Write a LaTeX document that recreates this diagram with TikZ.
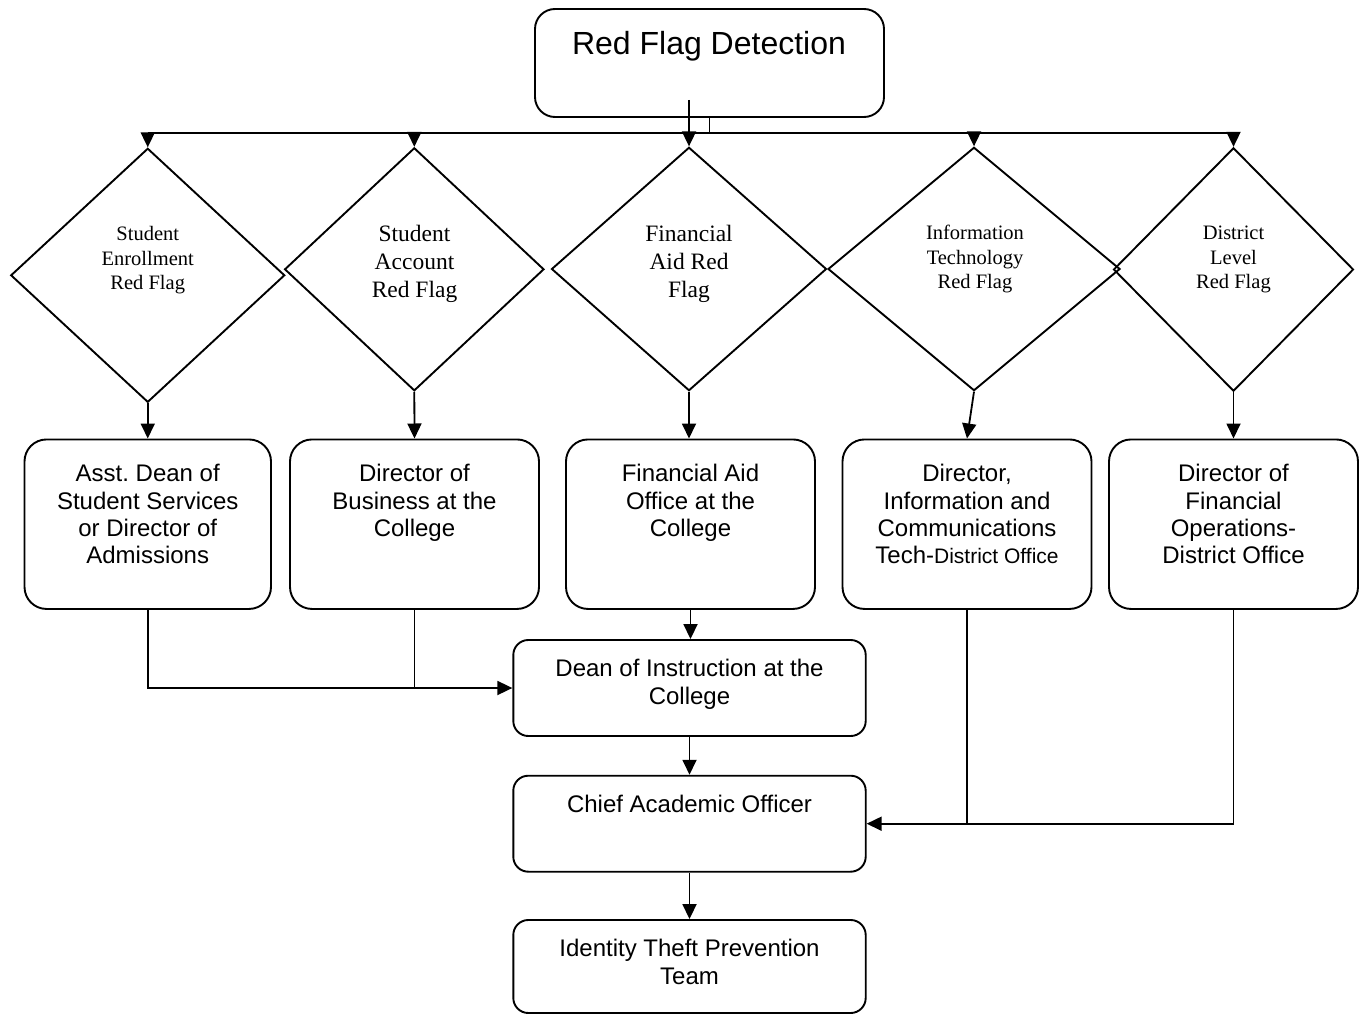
\documentclass[tikz,border=0pt]{standalone}
\usepackage{fontspec}
\setmainfont{Liberation Serif}
\newfontfamily\arialf{Liberation Sans}
\usetikzlibrary{shapes.geometric,arrows.meta}
\frenchspacing
\begin{document}
\begin{tikzpicture}[x=1pt,y=-1pt,
  >={Triangle[length=15pt,width=14pt]},
  rbox/.style={draw, line width=1.9pt, rounded corners=22pt, inner sep=0pt, minimum width=249pt, minimum height=169.5pt},
  sbox/.style={draw, line width=1.9pt, rounded corners=15pt, inner sep=0pt, minimum width=352.4pt},
  dia/.style={draw, diamond, line width=1.9pt, inner sep=0pt},
  btxt/.style={font=\arialf\fontsize{24}{27.3}\selectfont, align=center, inner sep=0pt, anchor=north},
  dtxts/.style={font=\fontsize{20.5}{24.5}\selectfont, align=center, inner sep=0pt, anchor=north},
  dtxtb/.style={font=\fontsize{23.5}{28}\selectfont, align=center, inner sep=0pt, anchor=north},
  conn/.style={line width=1.8pt},
  arr/.style={conn, ->}]
\useasboundingbox (0,0) rectangle (1368,1014);
\fill[white] (0,0) rectangle (1368,1014);

% top box
\node[draw, line width=1.9pt, rounded corners=20pt, inner sep=0pt, minimum width=349pt, minimum height=108pt] (top) at (709.5,63) {};
\node[font=\arialf\fontsize{32}{36}\selectfont, inner sep=0pt, anchor=base] (toptxt) at (709,55) {Red Flag Detection};

% diamonds
\node[dia, minimum width=274pt, minimum height=254pt] (d1) at (147.75,275.3) {};
\node[dia, minimum width=259.4pt, minimum height=243pt] (d2) at (414.3,269.3) {};
\node[dia, minimum width=275pt, minimum height=243.4pt] (d3) at (689,269) {};
\node[dia, minimum width=292pt, minimum height=243.4pt] (d4) at (974,269) {};
\node[dia, minimum width=240pt, minimum height=243.4pt] (d5) at (1233.5,269.5) {};

\node[dtxts] (d1t) at (147.75,223.5) {\strut Student\\Enrollment\\Red Flag};
\node[dtxtb] (d2t) at (414.5,221.2) {\strut Student\\Account\\Red Flag};
\node[dtxtb] (d3t) at (689,221.2) {\strut Financial\\Aid Red\\Flag};
\node[dtxts] (d4t) at (975,222.2) {\strut Information\\Technology\\Red Flag};
\node[dtxts] (d5t) at (1233.5,222.2) {\strut District\\Level\\Red Flag};

% row boxes
\node[rbox, minimum width=246.5pt] (b1) at (147.75,524.2) {};
\node[rbox] (b2) at (414.5,524.2) {};
\node[rbox] (b3) at (690.5,524.2) {};
\node[rbox] (b4) at (967,524.2) {};
\node[rbox] (b5) at (1233.5,524.2) {};

\node[btxt] (b1t) at (147.75,462.4) {\strut Asst. Dean of\\Student Services\\or Director of\\Admissions};
\node[btxt] (b2t) at (414.5,462.4) {\strut Director of\\Business at the\\College};
\node[btxt] (b3t) at (690.5,462.4) {\strut Financial Aid\\Office at the\\College};
\node[btxt] (b4t) at (967,462.4) {\strut Director,\\Information and\\Communications\\Tech-{\fontsize{21}{27.3}\selectfont District Office}};
\node[btxt] (b5t) at (1233.5,462.4) {\strut Director of\\Financial\\Operations-\\District Office};

% lower boxes
\node[sbox, minimum height=96pt] (dean) at (689.5,688) {};
\node[btxt] (deant) at (689.5,657.5) {\strut Dean of Instruction at the\\College};
\node[sbox, minimum height=96pt] (chief) at (689.5,823.7) {};
\node[font=\arialf\fontsize{24}{27.3}\selectfont, inner sep=0pt, anchor=base] (chieft) at (689.5,812.3) {Chief Academic Officer};
\node[sbox, minimum height=93pt] (ident) at (689.5,966.5) {};
\node[btxt] (identt) at (689.5,937.6) {\strut Identity Theft Prevention\\Team};

% top distribution
\coordinate (hy) at (0,133);
\coordinate (t3) at (689,100);
\draw[conn] (top.south) -- (top.south |- hy);
\draw[conn] (d1.north |- hy) -- (d5.north |- hy);
\draw[arr] (d1.north |- hy) -- (d1.north);
\draw[arr] (d2.north |- hy) -- (d2.north);
\draw[arr] (t3) -- (d3.north);
\draw[arr] (d4.north |- hy) -- (d4.north);
\draw[arr] (d5.north |- hy) -- (d5.north);

% diamonds to boxes
\draw[arr] (d1.south) -- (b1.north);
\draw[arr] (d2.south) -- (b2.north);
\draw[arr] (d3.south) -- (d3.south |- b3.north);
\draw[arr] (d4.south) -- (b4.north);
\draw[arr] (d5.south) -- (b5.north);

% boxes to lower chain
\draw[arr] (b3.south) -- (b3.south |- dean.north);
\draw[arr] (b1.south) |- (dean.west);
\draw[conn] (b2.south) -- (b2.south |- dean.west);
\draw[arr] (dean.south) -- (chief.north);
\draw[arr] (b4.south) |- (chief.east);
\draw[conn] (b5.south) |- (b4.south |- chief.east);
\draw[arr] (chief.south) -- (ident.north);
\end{tikzpicture}
\end{document}
